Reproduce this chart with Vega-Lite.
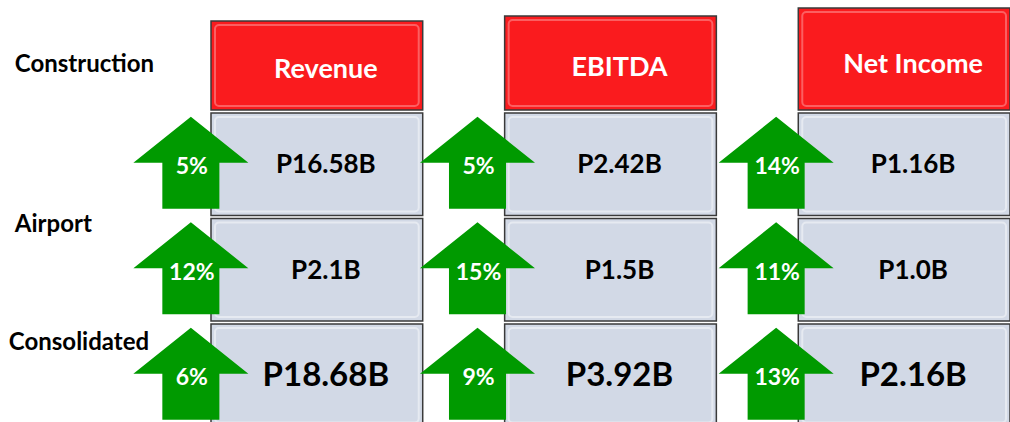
{
  "$schema": "https://vega.github.io/schema/vega-lite/v6.json",
  "width": 1010,
  "height": 422,
  "padding": 0,
  "autosize": {"type": "none"},
  "background": "white",
  "config": {"view": {"stroke": null}, "font": "Lato"},
  "data": {
    "values": [
      {"metric": "Revenue", "segment": "Construction", "value": "P16.58B", "growth": "5%"},
      {"metric": "EBITDA", "segment": "Construction", "value": "P2.42B", "growth": "5%"},
      {"metric": "Net Income", "segment": "Construction", "value": "P1.16B", "growth": "14%"},
      {"metric": "Revenue", "segment": "Airport", "value": "P2.1B", "growth": "12%"},
      {"metric": "EBITDA", "segment": "Airport", "value": "P1.5B", "growth": "15%"},
      {"metric": "Net Income", "segment": "Airport", "value": "P1.0B", "growth": "11%"},
      {"metric": "Revenue", "segment": "Consolidated", "value": "P18.68B", "growth": "6%"},
      {"metric": "EBITDA", "segment": "Consolidated", "value": "P3.92B", "growth": "9%"},
      {"metric": "Net Income", "segment": "Consolidated", "value": "P2.16B", "growth": "13%"}
    ]
  },
  "layer": [
    {
      "transform": [{"filter": "datum.segment === 'Construction'"}],
      "mark": {
        "type": "rect",
        "fill": "#FA1B1E",
        "stroke": "#3A3A3A",
        "strokeWidth": 1.5,
        "yOffset": {"expr": "datum.metric === 'Revenue' ? 13.5 : datum.metric === 'EBITDA' ? 8.5 : 0.5"},
        "y2Offset": -3
      },
      "encoding": {
        "x": {
          "field": "metric",
          "type": "nominal",
          "scale": {"domain": ["Revenue", "EBITDA", "Net Income"], "range": [211, 1010], "paddingInner": 0.279, "paddingOuter": 0},
          "axis": null
        },
        "y": {
          "datum": "header",
          "type": "nominal",
          "bandPosition": 0,
          "scale": {"domain": ["header", "Construction", "Airport", "Consolidated"], "range": [7.5, 426.5], "paddingInner": 0.028, "paddingOuter": 0},
          "axis": null
        },
        "y2": {"datum": "Construction", "bandPosition": 0}
      }
    },
    {
      "transform": [{"filter": "datum.segment === 'Construction'"}],
      "mark": {
        "type": "rect",
        "fill": null,
        "stroke": "white",
        "strokeOpacity": 0.3,
        "strokeWidth": 2,
        "cornerRadius": 4,
        "xOffset": 4,
        "x2Offset": -4,
        "yOffset": {"expr": "(datum.metric === 'Revenue' ? 13.5 : datum.metric === 'EBITDA' ? 8.5 : 0.5) + 4"},
        "y2Offset": -7
      },
      "encoding": {
        "x": {"field": "metric", "type": "nominal", "bandPosition": 0, "axis": null},
        "x2": {"field": "metric", "bandPosition": 1},
        "y": {"datum": "header", "type": "nominal", "bandPosition": 0, "axis": null},
        "y2": {"datum": "Construction", "bandPosition": 0}
      }
    },
    {
      "mark": {"type": "rect", "fill": "#D2D9E6", "stroke": "#3A3A3A", "strokeWidth": 1.5},
      "encoding": {
        "x": {"field": "metric", "type": "nominal", "axis": null},
        "y": {"field": "segment", "type": "nominal", "axis": null}
      }
    },
    {
      "mark": {
        "type": "rect",
        "fill": null,
        "stroke": "white",
        "strokeOpacity": 0.45,
        "strokeWidth": 2,
        "cornerRadius": 4,
        "xOffset": 4,
        "x2Offset": -4,
        "yOffset": 4,
        "y2Offset": -4
      },
      "encoding": {
        "x": {"field": "metric", "type": "nominal", "bandPosition": 0, "axis": null},
        "x2": {"field": "metric", "bandPosition": 1},
        "y": {"field": "segment", "type": "nominal", "bandPosition": 0, "axis": null},
        "y2": {"field": "segment", "bandPosition": 1}
      }
    },
    {
      "mark": {
        "type": "point",
        "shape": "M0,-0.8L1,0L0.496,0L0.496,0.8L-0.496,0.8L-0.496,0L-1,0Z",
        "filled": true,
        "fill": "#009A00",
        "opacity": 1,
        "strokeWidth": 0,
        "size": 13225,
        "xOffset": {"expr": "datum.metric === 'Revenue' ? -126 : datum.metric === 'EBITDA' ? -133 : -128"},
        "yOffset": -1.5
      },
      "encoding": {
        "x": {"field": "metric", "type": "nominal", "axis": null},
        "y": {"field": "segment", "type": "nominal", "axis": null}
      }
    },
    {
      "mark": {
        "type": "text",
        "color": "white",
        "fontWeight": "bold",
        "fontSize": 23,
        "baseline": "middle",
        "align": "center",
        "xOffset": {"expr": "datum.metric === 'Revenue' ? -125 : datum.metric === 'EBITDA' ? -132 : -127"},
        "yOffset": 3
      },
      "encoding": {
        "x": {"field": "metric", "type": "nominal", "axis": null},
        "y": {"field": "segment", "type": "nominal", "axis": null},
        "text": {"field": "growth"}
      }
    },
    {
      "mark": {
        "type": "text",
        "color": "black",
        "fontWeight": "bold",
        "fontSize": {"expr": "datum.segment === 'Consolidated' ? 33 : 26"},
        "baseline": "middle",
        "align": "center",
        "xOffset": 9,
        "yOffset": 1
      },
      "encoding": {
        "x": {"field": "metric", "type": "nominal", "axis": null},
        "y": {"field": "segment", "type": "nominal", "axis": null},
        "text": {"field": "value"}
      }
    },
    {
      "transform": [{"filter": "datum.segment === 'Construction'"}],
      "mark": {
        "type": "text",
        "color": "white",
        "fontWeight": "bold",
        "fontSize": 27,
        "baseline": "middle",
        "align": "center",
        "xOffset": 9,
        "yOffset": {"expr": "datum.metric === 'Revenue' ? 11 : datum.metric === 'EBITDA' ? 9 : 6"}
      },
      "encoding": {
        "x": {"field": "metric", "type": "nominal", "axis": null},
        "y": {"datum": "header", "type": "nominal", "axis": null},
        "text": {"field": "metric"}
      }
    },
    {
      "transform": [{"filter": "datum.metric === 'Revenue'"}],
      "mark": {
        "type": "text",
        "color": "black",
        "fontWeight": "bold",
        "fontSize": 24,
        "baseline": "middle",
        "align": "left",
        "xOffset": {"expr": "datum.segment === 'Consolidated' ? -308 : -302"},
        "yOffset": {"expr": "datum.segment === 'Construction' ? -99 : datum.segment === 'Airport' ? -45 : -32"}
      },
      "encoding": {
        "x": {"field": "metric", "type": "nominal", "axis": null},
        "y": {"field": "segment", "type": "nominal", "axis": null},
        "text": {"field": "segment"}
      }
    }
  ]
}
